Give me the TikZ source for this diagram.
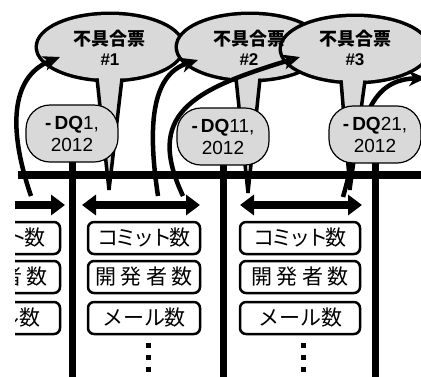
\documentclass[tikz,border=0pt]{standalone}
\usepackage{fontspec}
\setmainfont{Liberation Sans}
\newfontfamily\jp{Noto Sans CJK JP}
\usetikzlibrary{arrows.meta,shapes.geometric}
\definecolor{bgray}{RGB}{217,217,217}
\begin{document}
\begin{tikzpicture}[x=1pt,y=-1pt,
  bubstroke/.style={draw=black,line width=7pt},
  bubfill/.style={fill=bgray},
  tailside/.style={draw=black,line width=3.5pt,line cap=butt},
  bubtext/.style={align=center,inner sep=0pt,font=\fontsize{18}{20}\selectfont},
  curvarrow/.style={line width=4.5pt,-{Stealth[length=17pt,width=15pt,inset=5pt]}},
  tline/.style={line width=8pt},
  stemline/.style={line width=7pt},
  dq/.style={draw,line width=1.2pt,fill=bgray,rounded corners=24pt,minimum width=92pt,minimum height=57pt,align=center,inner sep=0pt,font=\fontsize{19}{22}\selectfont},
  harrow/.style={line width=8pt,-{Triangle[length=14pt,width=20pt]}},
  hdarrow/.style={line width=8pt,{Triangle[length=14pt,width=20pt]}-{Triangle[length=14pt,width=20pt]}},
  cbox/.style={draw,line width=2.5pt,rounded corners=6pt,minimum height=32pt,inner sep=0pt,font=\jp\fontsize{21}{24}\selectfont},
  vdot/.style={fill=black,minimum size=5pt,inner sep=0pt}
]
\useasboundingbox (0,0) rectangle (421,376);
\clip (0,0) rectangle (421,376);

% speech bubble centres, tail bases and tail tips
\coordinate (e1) at (110,47);
\coordinate (e2) at (250,47);
\coordinate (e3) at (355,49);
\coordinate (t1) at (109,190);
\coordinate (t2) at (248,193);
\coordinate (t3) at (350,190);
\coordinate (a1) at (97,78.5);  \coordinate (c1) at (122,78.6);
\coordinate (a2) at (236,78.4); \coordinate (c2) at (260,78.7);
\coordinate (a3) at (341,80.4); \coordinate (c3) at (365,80.7);

% bubble 1
\path[bubstroke] (e1) ellipse [x radius=72, y radius=32];
\path[bubfill] (e1) ellipse [x radius=72, y radius=32];
\path[bubfill] (97,68) -- (t1) -- (122,68) -- cycle;
\draw[tailside] (a1) -- (t1);
\draw[tailside] (c1) -- (t1);
% bubble 2
\path[bubstroke] (e2) ellipse [x radius=72, y radius=32];
\path[bubfill] (e2) ellipse [x radius=72, y radius=32];
\path[bubfill] (236,68) -- (t2) -- (260,68) -- cycle;
\draw[tailside] (a2) -- (t2);
\draw[tailside] (c2) -- (t2);
% bubble 3
\path[bubstroke] (e3) ellipse [x radius=73, y radius=32];
\path[bubfill] (e3) ellipse [x radius=73, y radius=32];
\path[bubfill] (341,70) -- (t3) -- (365,70) -- cycle;
\draw[tailside] (a3) -- (t3);
\draw[tailside] (c3) -- (t3);

\node[bubtext] (b1) at (110,48) {{\jp\bfseries 不具合票}\\{\fontsize{17}{20}\selectfont\bfseries\#1}};
\node[bubtext] (b2) at (249,48) {{\jp\bfseries 不具合票}\\{\fontsize{17}{20}\selectfont\bfseries\#2}};
\node[bubtext] (b3) at (355,48) {{\jp\bfseries 不具合票}\\{\fontsize{17}{20}\selectfont\bfseries\#3}};

% curved arrows
\coordinate (s1) at (31,196);  \coordinate (p1) at (60,57);
\coordinate (s2) at (158,196); \coordinate (p2) at (198,60);
\coordinate (s3) at (183,196); \coordinate (p3) at (300,57);
\coordinate (s4) at (343,197); \coordinate (p4) at (426,78);
\draw[curvarrow] (s1) .. controls (5,120) and (15,75) .. (p1);
\draw[curvarrow] (s2) .. controls (148,130) and (150,75) .. (p2);
\draw[curvarrow] (s3) .. controls (145,115) and (190,90) .. (p3);
\draw[curvarrow] (s4) .. controls (362,130) and (365,80) .. (p4);

% timeline and stems
\coordinate (tl0) at (18,175); \coordinate (tl1) at (425,175);
\draw[tline] (tl0) -- (tl1);
\coordinate (q1c) at (72,133.5);  \coordinate (q1b) at (72,380);
\coordinate (q2c) at (223,136.5); \coordinate (q2b) at (223,380);
\coordinate (q3c) at (375,134.5); \coordinate (q3b) at (375,380);
\draw[stemline] (q1c) -- (q1b);
\draw[stemline] (q2c) -- (q2b);
\draw[stemline] (q3c) -- (q3b);

\node[dq] (q1) at (q1c) {{\bfseries -\,DQ}1,\\2012};
\node[dq] (q2) at (q2c) {{\bfseries -\,DQ}11,\\2012};
\node[dq] (q3) at (q3c) {{\bfseries -\,DQ}21,\\2012};

% horizontal arrows
\coordinate (h1a) at (15,205);  \coordinate (h1b) at (65,205);
\coordinate (h2a) at (82,205);  \coordinate (h2b) at (200,205);
\coordinate (h3a) at (240,205); \coordinate (h3b) at (362,205);
\draw[harrow] (h1a) -- (h1b);
\draw[hdarrow] (h2a) -- (h2b);
\draw[hdarrow] (h3a) -- (h3b);

% left group (cut off)
\begin{scope}
\clip (15,215) rectangle (70,345);
\node[cbox,minimum width=112pt] (l1) at (4,238) {コ\hspace{-3pt}ミ\hspace{-3pt}ッ\hspace{-3pt}ト\hspace{-3pt}数\hspace*{10pt}};
\node[cbox,minimum width=112pt] (l2) at (4,277) {開\hspace{4.5pt}発\hspace{4.5pt}者\hspace{4.5pt}数\hspace*{10pt}};
\node[cbox,minimum width=112pt] (l3) at (4,318) {メール数\hspace*{10pt}};
\end{scope}

% middle group
\node[cbox,minimum width=112pt] (m1) at (144,238) {コ\hspace{-3pt}ミ\hspace{-3pt}ッ\hspace{-3pt}ト\hspace{-3pt}数};
\node[cbox,minimum width=112pt] (m2) at (144,277) {開\hspace{4.5pt}発\hspace{4.5pt}者\hspace{4.5pt}数};
\node[cbox,minimum width=112pt] (m3) at (144,318) {メール数};
\node[vdot] (md1) at (148,345) {};
\node[vdot] (md2) at (148,357) {};
\node[vdot] (md3) at (148,369) {};

% right group
\node[cbox,minimum width=120pt] (r1) at (300,238) {コ\hspace{-3pt}ミ\hspace{-3pt}ッ\hspace{-3pt}ト\hspace{-3pt}数};
\node[cbox,minimum width=120pt] (r2) at (300,277) {開\hspace{4.5pt}発\hspace{4.5pt}者\hspace{4.5pt}数};
\node[cbox,minimum width=120pt] (r3) at (300,318) {メール数};
\node[vdot] (rd1) at (303,345) {};
\node[vdot] (rd2) at (303,357) {};
\node[vdot] (rd3) at (303,369) {};
\end{tikzpicture}
\end{document}
